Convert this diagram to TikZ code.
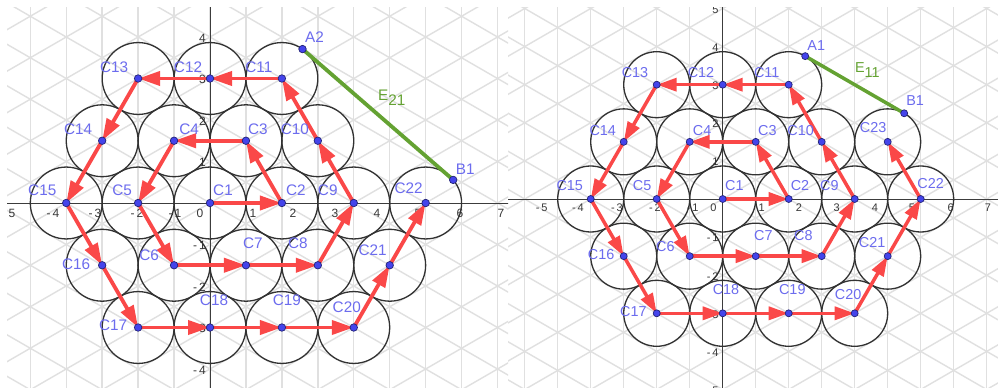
\documentclass[tikz,border=0pt]{standalone}
\usepackage{fontspec}
\setmainfont{Liberation Sans}
\usetikzlibrary{arrows.meta,calc}
\definecolor{gridc}{RGB}{224,224,224}
\definecolor{axisc}{RGB}{60,60,60}
\definecolor{tickc}{RGB}{55,55,55}
\definecolor{circc}{RGB}{50,50,50}
\definecolor{vecc}{RGB}{250,72,72}
\definecolor{segc}{RGB}{100,162,50}
\definecolor{dotfill}{RGB}{68,68,235}
\definecolor{dotline}{RGB}{35,35,120}
\definecolor{labc}{RGB}{108,108,238}
\tikzset{
  gridline/.style={draw=gridc, line width=1.4bp},
  axisline/.style={draw=axisc, line width=0.9bp},
  ring/.style={draw=circc, line width=1.3bp},
  vecL/.style={draw=vecc, line width=3.8bp, -{Triangle[length=22bp,width=14bp]}},
  vecR/.style={draw=vecc, line width=3.5bp, -{Triangle[length=20bp,width=13bp]}},
  segL/.style={draw=segc, line width=3.8bp},
  segR/.style={draw=segc, line width=3.5bp},
  dotL/.style={circle, fill=dotfill, draw=dotline, line width=0.7bp, inner sep=0pt, minimum size=7.5bp},
  dotR/.style={circle, fill=dotfill, draw=dotline, line width=0.7bp, inner sep=0pt, minimum size=7bp},
  labL/.style={text=labc, inner sep=0pt, font=\fontsize{15.3bp}{17bp}\selectfont},
  labR/.style={text=labc, inner sep=0pt, font=\fontsize{14.4bp}{16bp}\selectfont},
  seglabL/.style={text=segc, inner sep=0pt, font=\fontsize{15.3bp}{17bp}\selectfont},
  seglabR/.style={text=segc, inner sep=0pt, font=\fontsize{14.4bp}{16bp}\selectfont},
  tickL/.style={text=tickc, inner sep=0pt, font=\fontsize{12bp}{13bp}\selectfont},
  tickR/.style={text=tickc, inner sep=0pt, font=\fontsize{11bp}{12bp}\selectfont},
}
\begin{document}
\begin{tikzpicture}[x=1bp,y=1bp]
\useasboundingbox (0,0) rectangle (998,387);
\fill[white] (0,0) rectangle (998,387);
%================ LEFT PANEL =================
\begin{scope}[shift={(210bp,184bp)}, x=41.5bp, y=41.5bp]
\begin{scope}
\clip (-203bp,-184bp) rectangle (298bp,195bp);
\foreach \k in {-6,...,9} \draw[gridline] ({\k*0.8660254},-6) -- ({\k*0.8660254},6);
\foreach \n in {-10,...,10} {
  \draw[gridline] (-6,{-6*0.5773503+\n}) -- (8.5,{8.5*0.5773503+\n});
  \draw[gridline] (-6,{6*0.5773503+\n}) -- (8.5,{-8.5*0.5773503+\n});
}
\draw[axisline] (-6,0) -- (8,0);
\draw[axisline] (0,-6) -- (0,6);
\foreach \v/\t/\nm in {-201/{-\,5}/m5,-157/{-\,4}/m4,-115/{-\,3}/m3,-73/{-\,2}/m2,-35/{-\,1}/m1,-10/0/z,43/1/p1,83/2/p2,125/3/p3,167/4/p4,208/5/p5,250/6/p6,291/7/p7}
  \node[tickL] (lx\nm) at (\v bp,-10bp) {\t};
\foreach \v/\t/\nm in {166/4/p4,124.5/3/p3,83/2/p2,41.5/1/p1,-41.5/{-\,1}/m1,-83/{-\,2}/m2,-124.5/{-\,3}/m3,-166/{-\,4}/m4}
  \node[tickL, anchor=east] (ly\nm) at (-4bp,\v bp-1bp) {\t};
\end{scope}
\foreach \i/\x/\y in {1/0/0, 2/1.7320508/0, 3/0.8660254/1.5, 4/-0.8660254/1.5, 5/-1.7320508/0,
  6/-0.8660254/-1.5, 7/0.8660254/-1.5, 8/2.5980762/-1.5, 9/3.4641016/0, 10/2.5980762/1.5,
  11/1.7320508/3, 12/0/3, 13/-1.7320508/3, 14/-2.5980762/1.5, 15/-3.4641016/0,
  16/-2.5980762/-1.5, 17/-1.7320508/-3, 18/0/-3, 19/1.7320508/-3, 20/3.4641016/-3,
  21/4.3301270/-1.5, 22/5.1961524/0}
  \coordinate (L\i) at (\x,\y);
\foreach \i in {1,...,22} \draw[ring] (L\i) circle[radius=0.8660254];
\coordinate (LA) at ($(L11)+(55:0.8660254)$);
\coordinate (LB) at ($(L22)+(40:0.8660254)$);
\draw[segL] (LA) -- node[seglabL, xshift=14bp, yshift=16.5bp] (eL) {E\raisebox{-5bp}{21}} (LB);
\foreach \a/\b in {1/2,2/3,3/4,4/5,5/6,6/7,7/8,8/9,9/10,10/11,11/12,12/13,13/14,14/15,15/16,16/17,17/18,18/19,19/20,20/21,21/22}
  \draw[vecL] (L\a) -- (L\b);
\foreach \i in {1,...,22} \node[dotL] (dL\i) at (L\i) {};
\node[dotL] (dLA) at (LA) {};
\node[dotL] (dLB) at (LB) {};
\foreach \i/\dx/\dy in {1/13/13, 2/14/13, 3/12/12, 4/15/12, 5/-16/13, 6/-25/10, 7/7/22, 8/-20/22,
  9/-26/13, 10/-23/12, 11/-23/11, 12/-22/11, 13/-24/11, 14/-24/12, 15/-24/13, 16/-26/1,
  17/-25/2, 18/4/27, 19/5/27, 20/-7/20, 21/-17/15, 22/-17/15}
  \node[labL, xshift=\dx bp, yshift=\dy bp] (tL\i) at (L\i) {C\i};
\node[labL, xshift=12bp, yshift=12bp] (tLA) at (LA) {A2};
\node[labL, xshift=12bp, yshift=11bp] (tLB) at (LB) {B1};
\end{scope}
%================ RIGHT PANEL =================
\begin{scope}[shift={(722.7bp,188bp)}, x=38.1bp, y=38.1bp]
\begin{scope}
\clip (-214.7bp,-188bp) rectangle (275.3bp,191bp);
\foreach \k in {-8,...,10} \draw[gridline] ({\k*0.8660254},-6) -- ({\k*0.8660254},6);
\foreach \n in {-11,...,11} {
  \draw[gridline] (-7,{-7*0.5773503+\n}) -- (8.5,{8.5*0.5773503+\n});
  \draw[gridline] (-7,{7*0.5773503+\n}) -- (8.5,{-8.5*0.5773503+\n});
}
\draw[axisline] (-7,0) -- (8,0);
\draw[axisline] (0,-6) -- (0,6);
\foreach \v/\t/\nm in {-181/{-\,5}/m5,-144.7/{-\,4}/m4,-105.7/{-\,3}/m3,-67.7/{-\,2}/m2,-30/{-\,1}/m1,-9.4/0/z,39/1/p1,76.3/2/p2,114/3/p3,152.3/4/p4,189.3/5/p5,228/6/p6,265.3/7/p7}
  \node[tickR] (rx\nm) at (\v bp,-9bp) {\t};
\foreach \v/\t/\nm in {190.5/5/p5,152.4/4/p4,114.3/3/p3,76.2/2/p2,38.1/1/p1,-38.1/{-\,1}/m1,-76.2/{-\,2}/m2,-114.3/{-\,3}/m3,-152.4/{-\,4}/m4,-190.5/{-\,5}/m5}
  \node[tickR, anchor=east] (ry\nm) at (-4bp,\v bp-1bp) {\t};
\end{scope}
\foreach \i/\x/\y in {1/0/0, 2/1.7320508/0, 3/0.8660254/1.5, 4/-0.8660254/1.5, 5/-1.7320508/0,
  6/-0.8660254/-1.5, 7/0.8660254/-1.5, 8/2.5980762/-1.5, 9/3.4641016/0, 10/2.5980762/1.5,
  11/1.7320508/3, 12/0/3, 13/-1.7320508/3, 14/-2.5980762/1.5, 15/-3.4641016/0,
  16/-2.5980762/-1.5, 17/-1.7320508/-3, 18/0/-3, 19/1.7320508/-3, 20/3.4641016/-3,
  21/4.3301270/-1.5, 22/5.1961524/0, 23/4.3301270/1.5}
  \coordinate (R\i) at (\x,\y);
\foreach \i in {1,...,23} \draw[ring] (R\i) circle[radius=0.8660254];
\coordinate (RA) at ($(R11)+(60:0.8660254)$);
\coordinate (RB) at ($(R23)+(60:0.8660254)$);
\draw[segR] (RA) -- node[seglabR, xshift=12.7bp, yshift=14.7bp] (eR) {E\raisebox{-4.5bp}{11}} (RB);
\foreach \a/\b in {1/2,2/3,3/4,4/5,5/6,6/7,7/8,8/9,9/10,10/11,11/12,12/13,13/14,14/15,15/16,16/17,17/18,18/19,19/20,20/21,21/22,22/23}
  \draw[vecR] (R\a) -- (R\b);
\foreach \i in {1,...,23} \node[dotR] (dR\i) at (R\i) {};
\node[dotR] (dRA) at (RA) {};
\node[dotR] (dRB) at (RB) {};
\foreach \i/\dx/\dy in {1/11.6/13, 2/11.3/13, 3/11.6/11.7, 4/12.4/11.7, 5/-14.6/13, 6/-24.3/9.7,
  7/7.6/20.7, 8/-18.3/20.7, 9/-25.3/13, 10/-21/11.7, 11/-22/12, 12/-21.7/12, 13/-21.7/12,
  14/-21/11.7, 15/-21/13, 16/-22.6/1.4, 17/-23.4/1.3, 18/3.3/24, 19/3.6/24, 20/-6.6/19,
  21/-15.6/14, 22/10/15.7, 23/-14.6/14}
  \node[labR, xshift=\dx bp, yshift=\dy bp] (tR\i) at (R\i) {C\i};
\node[labR, xshift=11bp, yshift=11bp] (tRA) at (RA) {A1};
\node[labR, xshift=11bp, yshift=12.3bp] (tRB) at (RB) {B1};
\end{scope}
\end{tikzpicture}
\end{document}
